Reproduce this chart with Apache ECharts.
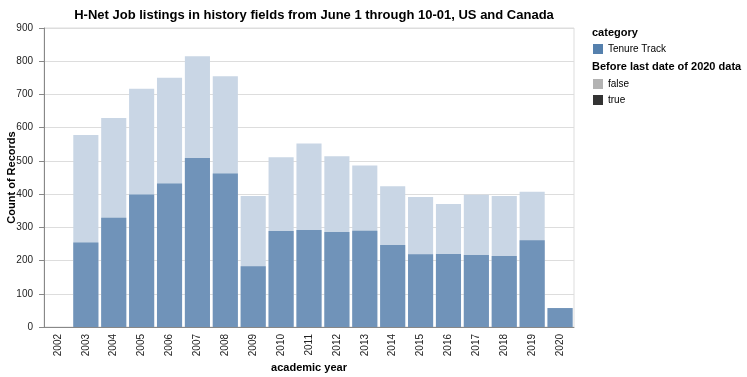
<!DOCTYPE html>
<html>
<head>
<meta charset="utf-8">
<script src="https://cdn.jsdelivr.net/npm/echarts@6/dist/echarts.min.js"></script>
<style>
  html, body { margin: 0; padding: 0; background: #fff; }
  #container { width: 747px; height: 377px; }
</style>
</head>
<body>
<div id="container"></div>
<script>
// academic years on the x axis
var years = ['2002', '2003', '2004', '2005', '2006', '2007', '2008', '2009', '2010', '2011',
             '2012', '2013', '2014', '2015', '2016', '2017', '2018', '2019', '2020'];
// all listings per year (top of the light bar)
var totalCounts = [0, 578, 629, 717, 750, 815, 755, 394, 511, 552,
                   514, 486, 424, 391, 370, 398, 394, 407, 57];
// listings before the last date of 2020 data (dark bar)
var beforeCounts = [0, 254, 329, 399, 432, 509, 462, 183, 289, 292,
                    286, 290, 247, 219, 220, 217, 214, 261, 57];
var yTicks = [0, 100, 200, 300, 400, 500, 600, 700, 800, 900];

var font = 'Liberation Sans, Arial, sans-serif';
var myChart = echarts.init(document.getElementById('container'));

var option = {
    animation: false,
    textStyle: { fontFamily: font },
    title: {
        text: 'H-Net Job listings in history fields from June 1 through 10-01, US and Canada',
        left: 309,
        textAlign: 'center',
        top: 4,
        textStyle: { fontFamily: font, fontSize: 13, fontWeight: 'bold', color: '#000' }
    },
    grid: {
        left: 44, right: 173, top: 28, bottom: 50,
        outerBoundsMode: 'none',
        containLabel: false,
        show: true, borderColor: '#ddd', borderWidth: 1
    },
    xAxis: {
        type: 'category',
        data: years,
        name: 'academic year',
        nameLocation: 'middle',
        nameGap: 35,
        nameMoveOverlap: false,
        nameTextStyle: { fontFamily: font, fontSize: 11, fontWeight: 'bold', color: '#000' },
        axisLine: { lineStyle: { color: '#888' } },
        axisTick: { alignWithLabel: true, length: 5, lineStyle: { color: '#888' } },
        axisLabel: { rotate: 90, fontSize: 10, color: '#222', margin: 7, fontFamily: font }
    },
    yAxis: {
        type: 'value',
        min: yTicks[0],
        max: yTicks[yTicks.length - 1],
        interval: 100,
        name: 'Count of Records',
        nameLocation: 'middle',
        nameGap: 27,
        nameMoveOverlap: false,
        nameTextStyle: { fontFamily: font, fontSize: 11, fontWeight: 'bold', color: '#000' },
        axisLine: { show: true, lineStyle: { color: '#888' } },
        axisTick: { show: true, length: 5, lineStyle: { color: '#888' } },
        axisLabel: { fontSize: 10, color: '#222', margin: 11, fontFamily: font },
        splitLine: { lineStyle: { color: '#ddd' } }
    },
    series: [
        {
            name: 'false',
            type: 'bar',
            data: totalCounts,
            barCategoryGap: '10%',
            barGap: '-100%',
            itemStyle: { color: '#c9d6e5' }
        },
        {
            name: 'true',
            type: 'bar',
            data: beforeCounts,
            barCategoryGap: '10%',
            barGap: '-100%',
            itemStyle: { color: '#7093b9' }
        }
    ],
    graphic: [
        { type: 'text', left: 592, top: 27, style: { text: 'category', font: 'bold 11px ' + font, fill: '#000' } },
        { type: 'rect', shape: { x: 593, y: 44, width: 10, height: 10 }, style: { fill: '#5580ad' } },
        { type: 'text', left: 608, top: 44, style: { text: 'Tenure Track', font: '10px ' + font, fill: '#000' } },
        { type: 'text', left: 592, top: 61, style: { text: 'Before last date of 2020 data', font: 'bold 11px ' + font, fill: '#000' } },
        { type: 'rect', shape: { x: 593, y: 79, width: 10, height: 10 }, style: { fill: '#b3b3b3' } },
        { type: 'text', left: 608, top: 79, style: { text: 'false', font: '10px ' + font, fill: '#000' } },
        { type: 'rect', shape: { x: 593, y: 95, width: 10, height: 10 }, style: { fill: '#333333' } },
        { type: 'text', left: 608, top: 95, style: { text: 'true', font: '10px ' + font, fill: '#000' } }
    ]
};

myChart.setOption(option);
</script>
</body>
</html>
